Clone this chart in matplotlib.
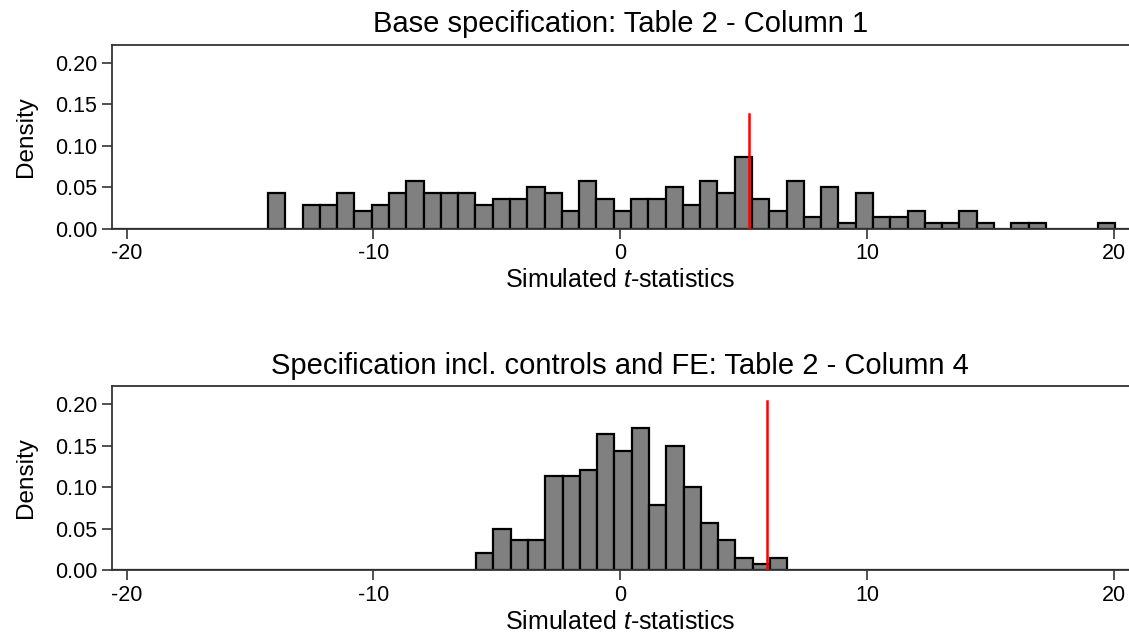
import numpy as np
import matplotlib
matplotlib.use("Agg")
import matplotlib.pyplot as plt

plt.rcParams['font.family'] = ['Liberation Sans', 'DejaVu Sans']
plt.rcParams['mathtext.fontset'] = 'custom'
plt.rcParams['mathtext.rm'] = 'Liberation Sans'
plt.rcParams['mathtext.it'] = 'Liberation Sans:italic'
plt.rcParams['axes.unicode_minus'] = False

# --- datos ---
bin_width = 0.7

# Panel 1: especificacion base
start_base = -14.27
dens_base = [0.043, 0.0, 0.029, 0.029, 0.043, 0.021, 0.029, 0.043, 0.057, 0.043,
             0.043, 0.043, 0.029, 0.036, 0.036, 0.050, 0.043, 0.021, 0.057, 0.036,
             0.021, 0.036, 0.036, 0.050, 0.029, 0.057, 0.043, 0.086, 0.036, 0.021,
             0.057, 0.014, 0.050, 0.007, 0.043, 0.014, 0.014, 0.021, 0.007, 0.007,
             0.021, 0.007, 0.0, 0.007, 0.007, 0.0, 0.0, 0.0, 0.007]
t_obs_base = 5.19
line_top_base = 0.138

# Panel 2: con controles y FE
start_fe = -5.84
dens_fe = [0.021, 0.050, 0.036, 0.036, 0.114, 0.114, 0.121, 0.164, 0.143, 0.171,
           0.079, 0.150, 0.100, 0.057, 0.036, 0.014, 0.007, 0.014]
t_obs_fe = 5.93
line_top_fe = 0.204

titulos = ["Base specification: Table 2 - Column 1",
           "Specification incl. controls and FE: Table 2 - Column 4"]

W, H = 1129, 637
fig = plt.figure(figsize=(W / 100, H / 100), dpi=100)

paneles = [
    (start_base, dens_base, t_obs_base, line_top_base, 228.7),
    (start_fe, dens_fe, t_obs_fe, line_top_fe, 570.0),
]

for i, (start, dens, t_obs, ltop, y_base) in enumerate(paneles):
    alto = 184.0
    ax = fig.add_axes([111.7 / W, 1 - y_base / H, 1 - 111.7 / W, alto / H])
    dens = np.array(dens)
    bordes = start + bin_width * np.arange(len(dens))
    mask = dens > 0
    ax.bar(bordes[mask], dens[mask], width=bin_width, align='edge',
           color='#808080', edgecolor='black', linewidth=1.6, zorder=2)
    ax.plot([t_obs, t_obs], [0, ltop], color='red', linewidth=1.8, zorder=3)
    ax.axhline(0, color='black', linewidth=1.6, zorder=1)

    ax.set_xlim(-20.6, 20.6)
    ax.set_ylim(0, 0.222)
    ax.set_xticks([-20, -10, 0, 10, 20])
    ax.set_yticks([0, 0.05, 0.10, 0.15, 0.20])
    ax.set_yticklabels([f"{v:.2f}" for v in [0, 0.05, 0.10, 0.15, 0.20]])
    ax.tick_params(direction='out', length=7, width=1.2, labelsize=15.5,
                   color='#333333', pad=3.5)
    for s in ['left', 'top', 'bottom']:
        ax.spines[s].set_color('#333333')
        ax.spines[s].set_linewidth(1.3)
    ax.spines['right'].set_visible(False)

    ax.set_title(titulos[i], fontsize=21, pad=9)
    ax.set_xlabel(r"Simulated $t$-statistics", fontsize=18, labelpad=3)
    ax.set_ylabel("Density", fontsize=17.5, labelpad=13)

fig.savefig("out.png", dpi=100)
